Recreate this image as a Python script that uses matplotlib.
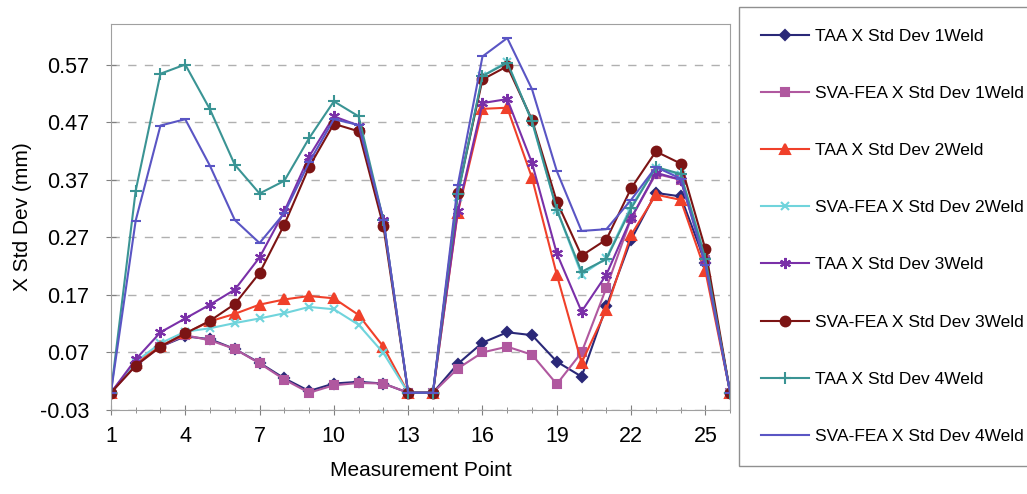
import matplotlib.pyplot as plt
import numpy as np

plt.rcParams['font.family'] = ['Liberation Sans', 'DejaVu Sans']

points = list(range(1, 27))

taa_1weld = [0, 0.051, 0.080, 0.098, 0.093, 0.076, 0.052, 0.025, 0.003, 0.016, 0.019, 0.016, 0,
             0, 0.050, 0.087, 0.105, 0.100, 0.054, 0.028, 0.150, 0.266, 0.347, 0.341, 0.226, 0]
sva_1weld = [0, 0.047, 0.080, 0.100, 0.091, 0.076, 0.051, 0.023, 0.000, 0.013, 0.017, 0.016, 0,
             0, 0.042, 0.070, 0.080, 0.066, 0.015, 0.070, 0.182, 0.303, 0.380, 0.370, 0.230, 0]
taa_2weld = [0, 0.051, 0.081, 0.103, 0.124, 0.137, 0.153, 0.162, 0.168, 0.164, 0.135, 0.080, 0,
             0, 0.312, 0.493, 0.495, 0.373, 0.205, 0.052, 0.144, 0.274, 0.344, 0.335, 0.211, 0]
sva_2weld = [0, 0.054, 0.086, 0.106, 0.112, 0.121, 0.129, 0.138, 0.149, 0.145, 0.118, 0.069, 0,
             0, 0.340, 0.550, 0.575, 0.470, 0.318, 0.205, 0.234, 0.324, 0.390, 0.379, 0.237, 0]
taa_3weld = [0, 0.058, 0.105, 0.129, 0.153, 0.179, 0.235, 0.315, 0.410, 0.480, 0.464, 0.300, 0,
             0, 0.315, 0.503, 0.510, 0.399, 0.242, 0.141, 0.205, 0.303, 0.382, 0.370, 0.231, 0]
sva_3weld = [0, 0.047, 0.080, 0.103, 0.125, 0.154, 0.208, 0.292, 0.392, 0.467, 0.454, 0.289, 0,
             0, 0.347, 0.544, 0.567, 0.474, 0.332, 0.238, 0.266, 0.355, 0.419, 0.398, 0.249, 0]
taa_4weld = [0, 0.351, 0.554, 0.570, 0.492, 0.396, 0.346, 0.368, 0.442, 0.506, 0.480, 0.300, 0,
             0, 0.345, 0.550, 0.573, 0.472, 0.318, 0.210, 0.232, 0.320, 0.392, 0.380, 0.232, 0]
sva_4weld = [0, 0.299, 0.464, 0.475, 0.394, 0.300, 0.260, 0.312, 0.400, 0.475, 0.465, 0.300, 0,
             0, 0.360, 0.584, 0.616, 0.527, 0.385, 0.281, 0.284, 0.335, 0.392, 0.372, 0.222, 0]

labels = ['TAA X Std Dev 1Weld', 'SVA-FEA X Std Dev 1Weld', 'TAA X Std Dev 2Weld',
          'SVA-FEA X Std Dev 2Weld', 'TAA X Std Dev 3Weld', 'SVA-FEA X Std Dev 3Weld',
          'TAA X Std Dev 4Weld', 'SVA-FEA X Std Dev 4Weld']
series = [taa_1weld, sva_1weld, taa_2weld, sva_2weld, taa_3weld, sva_3weld, taa_4weld, sva_4weld]
colors = ['#2a2878', '#b0589f', '#f0402a', '#70d4dc', '#7a30a8', '#7c1414', '#3a9494', '#5a55c4']
markers = ['D', 's', '^', 'x', (6, 2, 0), 'o', '+', '_']
msizes = [5, 6, 7, 6, 8, 7, 8, 7]

fig = plt.figure(figsize=(10.27, 4.94), dpi=100)
ax = fig.add_axes([0.108, 0.17, 0.603, 0.781])

for vals, lab, c, m, ms in zip(series, labels, colors, markers, msizes):
    ax.plot(points, vals, color=c, marker=m, markersize=ms, linewidth=1.5,
            markeredgewidth=1.5, label=lab)

ax.set_xlim(1, 26)
ax.set_ylim(-0.03, 0.64)
yt = [-0.03, 0.07, 0.17, 0.27, 0.37, 0.47, 0.57]
ax.set_yticks(yt)
ax.set_yticklabels(['%.2f' % v for v in yt])
ax.set_xticks(range(1, 27, 3))
ax.set_xticks(range(1, 27), minor=True)
ax.tick_params(axis='both', which='both', direction='inout', length=7, color='#808080',
               labelsize=15.5)
ax.tick_params(axis='x', which='major', pad=8)
ax.tick_params(axis='y', which='major', pad=12)
ax.tick_params(axis='x', which='minor', length=5)
ax.grid(axis='y', linestyle=(0, (6, 6)), color='#b0b0b0', linewidth=1)
for s in ax.spines.values():
    s.set_color('#a0a0a0')

ax.set_xlabel('Measurement Point', fontsize=15, labelpad=10)
ax.set_ylabel('X Std Dev (mm)', fontsize=15, labelpad=6)

leg = fig.legend(loc='upper left', bbox_to_anchor=(0.7196, 0.986), borderaxespad=0,
                 fontsize=12.5, labelspacing=2.42, handlelength=2.8, handletextpad=0.3,
                 borderpad=1.25, fancybox=False, edgecolor='#909090', framealpha=1)
leg.get_frame().set_linewidth(1)

fig.savefig('out.png', dpi=100)
